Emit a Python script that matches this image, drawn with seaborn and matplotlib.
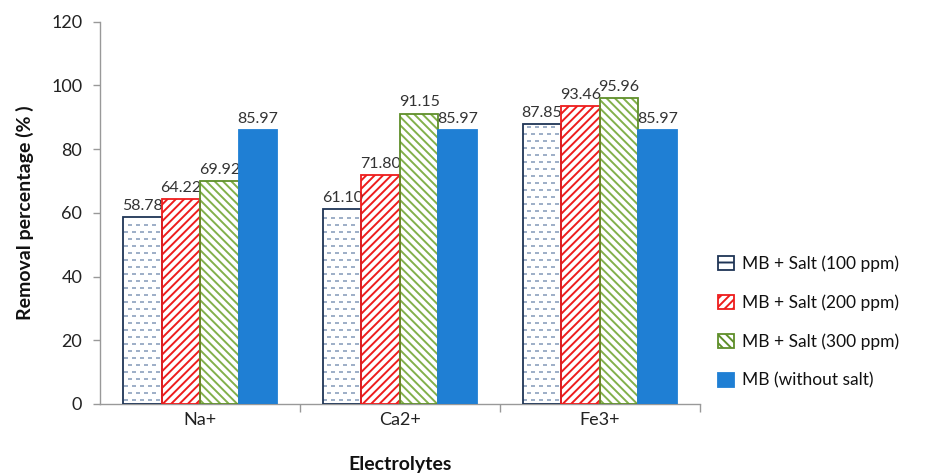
import matplotlib
matplotlib.use("Agg")
import matplotlib.pyplot as plt
import seaborn as sns
import numpy as np
import pandas as pd
from matplotlib.patches import Patch

# Removal data per electrolyte
electrolytes = ["Na+", "Ca2+", "Fe3+"]
series_names = ["MB + Salt (100 ppm)", "MB + Salt (200 ppm)",
                "MB + Salt (300 ppm)", "MB (without salt)"]
salt_100 = [58.78, 61.10, 87.85]
salt_200 = [64.22, 71.80, 93.46]
salt_300 = [69.92, 91.15, 95.96]
no_salt = [85.97, 85.97, 85.97]
y_ticks = [0, 20, 40, 60, 80, 100, 120]

rows = []
for name, vals in zip(series_names, [salt_100, salt_200, salt_300, no_salt]):
    for e, v in zip(electrolytes, vals):
        rows.append({"Electrolytes": e, "Series": name, "Removal": v})
df = pd.DataFrame(rows)

sns.set_theme(style="white")
plt.rcParams["font.family"] = ["Lato", "DejaVu Sans"]
plt.rcParams["hatch.linewidth"] = 1.4

fig = plt.figure(figsize=(9.29, 4.73), dpi=100)
ax = fig.add_axes([0.108, 0.146, 0.645, 0.808])

sns.barplot(data=df, x="Electrolytes", y="Removal", hue="Series",
            order=electrolytes, hue_order=series_names,
            width=0.77, ax=ax, errorbar=None, legend=False)

ax.set_ylim(0, 120)
ax.set_xlim(-0.5, 2.5)

styles = [
    dict(face="white", edge="#1f3556", hatch=None, hcol="#8298b8", dashes=True),
    dict(face="white", edge="#ee1c1c", hatch="////", hcol="#ee1c1c", dashes=False),
    dict(face="white", edge="#5f8f2a", hatch="\\\\\\\\", hcol="#82b04a", dashes=False),
    dict(face="#1f7fd4", edge="#1f7fd4", hatch=None, hcol="#1f7fd4", dashes=False),
]

# pixel size of one data unit, used for the dashed fill pattern
px_x = ax.bbox.width / 3.0
px_y = ax.bbox.height / 120.0

for container, st, vals in zip(ax.containers, styles,
                               [salt_100, salt_200, salt_300, no_salt]):
    for bar in container:
        bar.set_facecolor(st["face"])
        bar.set_edgecolor(st["hcol"])
        bar.set_linewidth(0)
        if st["hatch"]:
            bar.set_hatch(st["hatch"])
        x, y = bar.get_x(), bar.get_y()
        w, h = bar.get_width(), bar.get_height()
        if st["dashes"]:
            # staggered rows of short dashes inside the bar
            dx, dy = 8 / px_x, 7 / px_y
            ys = np.arange(y + dy * 0.6, y + h - dy * 0.3, dy)
            for i, yy in enumerate(ys):
                off = dx * 0.3 if i % 2 == 0 else dx * 0.8
                xs = np.arange(x + off, x + w - dx * 0.25, dx)
                ax.scatter(xs, np.full_like(xs, yy), marker="_", s=10,
                           linewidths=1.1, color=st["hcol"], zorder=2.5,
                           clip_on=True)
        # outline drawn separately so hatch colour can differ from edge
        ax.add_patch(plt.Rectangle((x, y), w, h, fill=False,
                                   edgecolor=st["edge"], linewidth=1.3,
                                   zorder=3))
    ax.bar_label(container, labels=[f"{v:.2f}" for v in vals], padding=3,
                 fontsize=11.5, color="#333333")

ax.set_yticks(y_ticks)
ax.tick_params(axis="y", labelsize=13, colors="#222222", length=5,
               width=1, color="#999999", direction="out", left=True, pad=8)
ax.tick_params(axis="x", which="major", labelsize=13, colors="#222222",
               length=0, pad=6)
ax.set_xticks([0.5, 1.5, 2.5], minor=True)
ax.tick_params(axis="x", which="minor", length=6, width=1, color="#999999",
               bottom=True, direction="out")

for side in ["top", "right"]:
    ax.spines[side].set_visible(False)
for side in ["left", "bottom"]:
    ax.spines[side].set_color("#999999")
    ax.spines[side].set_linewidth(1)

ax.set_ylabel("Removal percentage (% )", fontsize=14, fontweight="bold",
              color="#111111", labelpad=12)
ax.set_xlabel("Electrolytes", fontsize=14, fontweight="bold",
              color="#111111", labelpad=20)

handles = [Patch(facecolor=st["face"], edgecolor=st["edge"],
                 hatch=st["hatch"] if st["hatch"] else ("--" if st["dashes"] else None),
                 linewidth=1.3) for st in styles]
leg = ax.legend(handles, series_names, loc="upper left",
                bbox_to_anchor=(1.005, 0.43), frameon=False, fontsize=12.5,
                handlelength=0.9, handleheight=0.9, labelspacing=1.3,
                handletextpad=0.5)
for t in leg.get_texts():
    t.set_color("#111111")

fig.savefig("out.png", dpi=100)
